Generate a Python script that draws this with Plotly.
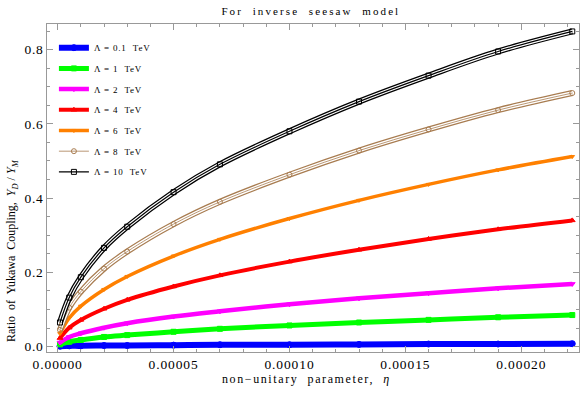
import plotly.graph_objects as go

eta = [0.1e-5, 0.5e-5, 1e-5, 2e-5, 3e-5, 5e-5, 7e-5, 10e-5, 13e-5, 16e-5, 19e-5, 22.2e-5]

lam_01 = [0.001, 0.002, 0.002, 0.003, 0.003, 0.004, 0.005, 0.005, 0.006, 0.007, 0.007, 0.008]
lam_1 = [0.006, 0.013, 0.018, 0.026, 0.031, 0.040, 0.048, 0.057, 0.065, 0.072, 0.079, 0.085]
lam_2 = [0.011, 0.026, 0.036, 0.051, 0.063, 0.081, 0.095, 0.114, 0.130, 0.144, 0.157, 0.169]
lam_4 = [0.023, 0.051, 0.072, 0.102, 0.126, 0.162, 0.192, 0.229, 0.261, 0.290, 0.316, 0.340]
lam_6 = [0.035, 0.077, 0.109, 0.154, 0.189, 0.244, 0.289, 0.345, 0.394, 0.437, 0.476, 0.512]
lam_8 = [0.045, 0.105, 0.148, 0.210, 0.256, 0.330, 0.390, 0.463, 0.528, 0.585, 0.637, 0.683]
lam_10 = [0.065, 0.132, 0.187, 0.266, 0.323, 0.416, 0.491, 0.580, 0.660, 0.730, 0.795, 0.849]

names = ["Λ = 0.1  TeV", "Λ = 1  TeV", "Λ = 2  TeV", "Λ = 4  TeV",
         "Λ = 6  TeV", "Λ = 8  TeV", "Λ = 10  TeV"]
series = [lam_01, lam_1, lam_2, lam_4, lam_6, lam_8, lam_10]
colors = ["#0000ff", "#00ff00", "#ff00ff", "#ff0000", "#ff8000", "#a87c50", "#000000"]
symbols = ["circle", "square", "triangle-down", "triangle-up", "triangle-down",
           "circle-open", "square-open"]
widths = [6, 5, 4.5, 4, 3.5, 0.8, 1.2]
msizes = [6, 5, 5, 5, 4, 5, 5]

xticks = [0, 0.00005, 0.0001, 0.00015, 0.0002]
xticklabels = ["0.00000", "0.00005", "0.00010", "0.00015", "0.00020"]
yticks = [0, 0.2, 0.4, 0.6, 0.8]
yticklabels = ["0.0", "0.2", "0.4", "0.6", "0.8"]

FONT = "Liberation Serif"


def spaced(t, px):
    return f'<span style="letter-spacing:{px}px">{t}</span>'


fig = go.Figure()

for i, (nm, ys, c, s, w, ms) in enumerate(zip(names, series, colors, symbols, widths, msizes)):
    hollow = i >= 5
    if hollow:
        fig.add_trace(go.Scatter(x=eta, y=ys, mode="lines", showlegend=False,
                                 line=dict(color=c, width=6, shape="spline"),
                                 hoverinfo="skip", legendgroup=f"g{i}"))
        fig.add_trace(go.Scatter(x=eta, y=ys, mode="lines", showlegend=False,
                                 line=dict(color="white", width=3.5, shape="spline"),
                                 hoverinfo="skip", legendgroup=f"g{i}"))
    fig.add_trace(go.Scatter(
        x=eta, y=ys, name=spaced(nm, 0.8), legendgroup=f"g{i}",
        mode="lines+markers",
        line=dict(color=c, width=w, shape="spline"),
        marker=dict(symbol=s, size=ms, color=c, line=dict(color=c, width=1)),
    ))

fig.update_layout(
    width=581, height=399,
    margin=dict(l=47, r=2, t=24, b=47),
    paper_bgcolor="white", plot_bgcolor="white",
    font=dict(family=FONT, size=11, color="black"),
    title=dict(text=spaced("For  inverse  seesaw  model", 2.1), x=0.535, xanchor="center",
               y=0.972, yanchor="middle", font=dict(family=FONT, size=11)),
    legend=dict(x=0.013, y=0.972, xanchor="left", yanchor="top",
                bgcolor="rgba(0,0,0,0)", font=dict(family=FONT, size=9),
                tracegroupgap=1.7, itemwidth=30),
    showlegend=True,
    annotations=[
        dict(text="Ratio  of  Yukawa  Coupling,  <i>Y</i><sub><i>D</i></sub> / <i>Y</i><sub><i>M</i></sub>",
             xref="paper", yref="paper", x=(12 - 47) / 532, y=(352 - 251) / 328,
             xanchor="center", yanchor="middle", textangle=-90, showarrow=False,
             font=dict(family=FONT, size=12)),
        dict(text=spaced("non−unitary  parameter,  <i>η</i>", 1.6),
             xref="paper", yref="paper", x=(306 - 47) / 532, y=(352 - 379) / 328,
             xanchor="center", yanchor="middle", showarrow=False,
             font=dict(family=FONT, size=12)),
    ],
)

fig.update_xaxes(
    range=[-0.0000046, 0.0002249],
    tickvals=xticks,
    ticktext=[spaced(t, 0.9) for t in xticklabels],
    ticks="inside", ticklen=6, tickcolor="#999999", tickwidth=1,
    minor=dict(ticks="inside", ticklen=3, tickcolor="#999999", dtick=0.00001, tick0=0),
    showline=True, linecolor="#999999", linewidth=1, mirror="ticks",
    showgrid=False, zeroline=False,
    tickfont=dict(family=FONT, size=13.5),
)
fig.update_yaxes(
    range=[-0.0145, 0.869],
    tickvals=yticks,
    ticktext=[spaced(t, 0.6) for t in yticklabels],
    ticks="inside", ticklen=6, tickcolor="#999999", tickwidth=1,
    minor=dict(ticks="inside", ticklen=3, tickcolor="#999999", dtick=0.05, tick0=0),
    showline=True, linecolor="#999999", linewidth=1, mirror="ticks",
    showgrid=False, zeroline=False,
    tickfont=dict(family=FONT, size=13.5),
)

fig.write_html("out.html", config={"displayModeBar": False},
               post_script="document.body.style.margin='0';document.body.style.padding='0';")
